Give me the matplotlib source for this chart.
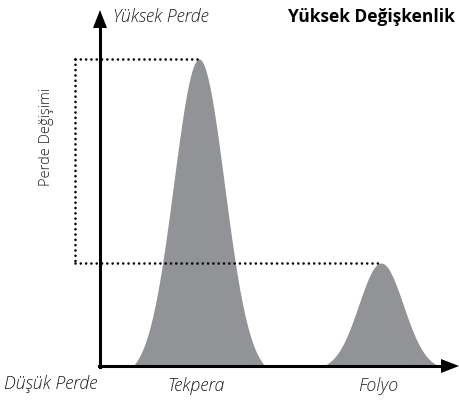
import numpy as np
import matplotlib
matplotlib.use("Agg")
import matplotlib.pyplot as plt

# schematic pitch-distribution peaks (centre, height above baseline, half-width), pixel units
peak_names = ["Tekpera", "Folyo"]
peak_centres = [199, 381]
peak_heights = [307, 103]
peak_halfwidths = [66, 58]

baseline = 366
axis_left = 100
axis_top = 10
axis_right = 459
box_left = 75

plt.rcParams['font.family'] = ['Open Sans', 'DejaVu Sans']

fig = plt.figure(figsize=(4.59, 4.01), dpi=100)
ax = fig.add_axes([0, 0, 1, 1])
ax.set_xlim(0, 459)
ax.set_ylim(401, 0)
ax.axis('off')

fill_col = '#929396'
for c, h, w in zip(peak_centres, peak_heights, peak_halfwidths):
    x = np.linspace(c - w, c + w, 300)
    s = w / 2.6
    g = np.exp(-(x - c) ** 2 / (2 * s ** 2))
    g0 = np.exp(-w ** 2 / (2 * s ** 2))
    y = baseline - h * (g - g0) / (1 - g0)
    ax.fill_between(x, baseline, y, color=fill_col, lw=0, zorder=1)

# dotted guides from the peak tops back to the left
top1 = baseline - peak_heights[0]
top2 = baseline - peak_heights[1]
dot = dict(color='black', lw=1.9, ls=(0, (0.01, 2.0)), dash_capstyle='round', zorder=2)
ax.plot([box_left, peak_centres[0]], [top1, top1], **dot)
ax.plot([box_left, box_left], [top1, top2], **dot)
ax.plot([box_left, peak_centres[1]], [top2, top2], **dot)

# axes with arrow heads
ax.plot([axis_left, axis_left], [baseline + 1.2, axis_top + 14], color='black', lw=2.2, zorder=3)
ax.plot([axis_left - 1.2, axis_right - 14], [baseline, baseline], color='black', lw=2.2, zorder=3)
ax.fill([axis_left - 7, axis_left + 7, axis_left], [axis_top + 18, axis_top + 18, axis_top],
        color='black', lw=0, zorder=3)
ax.fill([axis_right - 18, axis_right - 18, axis_right], [baseline - 7, baseline + 7, baseline],
        color='black', lw=0, zorder=3)

txt = '#1e1e1e'
ax.text(113, 17, 'Yüksek Perde', style='italic', fontsize=12.8, fontweight=300, color=txt,
        va='center', ha='left')
ax.text(455, 17, 'Yüksek Değişkenlik', fontweight='bold', fontsize=12.5, color='black',
        va='center', ha='right')
ax.text(4, 384, 'Düşük Perde', style='italic', fontsize=12.8, fontweight=300, color=txt,
        va='center', ha='left')
ax.text(46, 137, 'Perde Değişimi', rotation=90, fontsize=10.5, fontweight=300, color=txt,
        va='center', ha='center')
for name, c in zip(peak_names, peak_centres):
    ax.text(c - 3, 386, name, style='italic', fontsize=12.8, fontweight=300, color=txt,
            va='center', ha='center')

fig.savefig('out.png', dpi=100)
